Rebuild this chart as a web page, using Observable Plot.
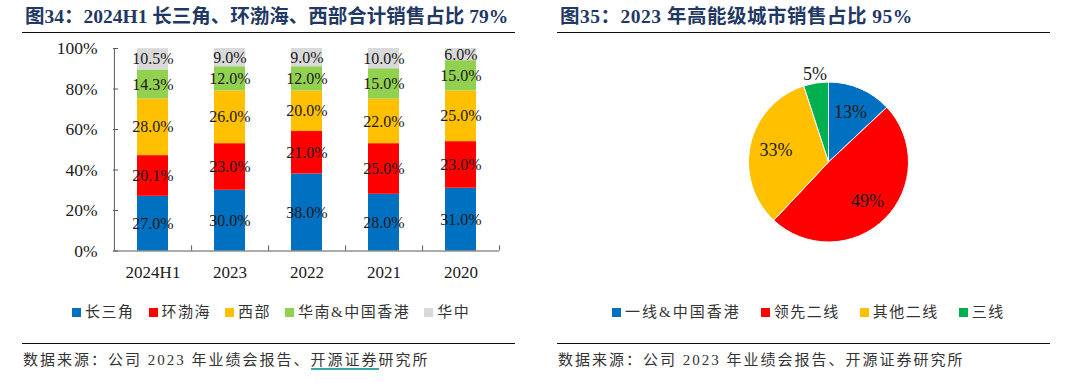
<!DOCTYPE html>
<html><head><meta charset="utf-8">
<script src="https://cdn.jsdelivr.net/npm/d3@7"></script>
<script src="https://cdn.jsdelivr.net/npm/@observablehq/plot@0.6"></script>
<style>
body{margin:0;width:1080px;height:383px;background:#fff;position:relative;overflow:hidden;font-family:"Liberation Serif","Noto Sans CJK SC",serif;}
.abs{position:absolute;}
.title{font-size:19.5px;font-weight:bold;color:#1f3864;line-height:24px;white-space:nowrap;}
.rule{height:0;border-top:1.6px solid #111;}
.legend{display:flex;align-items:center;font-size:15px;letter-spacing:1.5px;color:#333;white-space:nowrap;line-height:20px;}
.legend .item{display:flex;align-items:center;margin-right:14px;}
#leg2 .item{margin-right:20px;}
#leg2 .item:first-child span:last-child{letter-spacing:2px;}
.sw{width:9px;height:9px;display:inline-block;margin-right:4px;}
.src{font-size:15px;letter-spacing:2px;color:#333;white-space:nowrap;line-height:20px;}
.ul{border-bottom:2px solid #3aa6a8;}
</style></head><body>
<div class="abs title" style="left:25px;top:5px">图34：2024H1 长三角、环渤海、西部合计销售占比 79%</div>
<div class="abs rule" style="left:22px;top:32px;width:493px"></div>
<div class="abs title" style="left:560px;top:5px;letter-spacing:0.5px">图35：2023 年高能级城市销售占比 95%</div>
<div class="abs rule" style="left:557px;top:32px;width:493px"></div>
<div id="bar" class="abs" style="left:0;top:0"></div>
<div id="pie" class="abs" style="left:540px;top:0"></div>
<div id="leg1" class="abs legend" style="left:72px;top:302px"></div>
<div id="leg2" class="abs legend" style="left:612px;top:302px"></div>
<div class="abs rule" style="left:22px;top:343px;width:493px"></div>
<div class="abs rule" style="left:557px;top:343px;width:493px"></div>
<div class="abs src" style="left:23px;top:350px">数据来源：公司 2023 年业绩会报告、<span class="ul">开源证券</span>研究所</div>
<div class="abs src" style="left:558px;top:350px">数据来源：公司 2023 年业绩会报告、开源证券研究所</div>
<script>
// ---- data ----
const years = ["2024H1", "2023", "2022", "2021", "2020"];
const regions = ["长三角", "环渤海", "西部", "华南&中国香港", "华中"];
const yangtze = [27.0, 30.0, 38.0, 28.0, 31.0];
const bohai = [20.1, 23.0, 21.0, 25.0, 23.0];
const west = [28.0, 26.0, 20.0, 22.0, 25.0];
const southHK = [14.3, 12.0, 12.0, 15.0, 15.0];
const central = [10.5, 9.0, 9.0, 10.0, 6.0];
const regionColors = ["#0070C0", "#FF0000", "#FFC000", "#92D050", "#D9D9D9"];
const yTicks = [0, 20, 40, 60, 80, 100];

const tiers = ["一线&中国香港", "领先二线", "其他二线", "三线"];
const tierShare = [13, 49, 33, 5];
const tierColors = ["#0070C0", "#FF0000", "#FFC000", "#00B050"];

const font = '"Liberation Serif","Noto Sans CJK SC",serif';

// ---- bar chart ----
const series = [yangtze, bohai, west, southHK, central];
const rows = [];
years.forEach((y, i) => regions.forEach((r, j) => rows.push({year: y, region: r, value: series[j][i]})));

const W = 540, H = 290, ml = 113, mr = 41, mt = 48, mb = H - 250.5;
const step = (W - ml - mr) / years.length;
const bar = Plot.plot({
  width: W, height: H, marginLeft: ml, marginRight: mr, marginTop: mt, marginBottom: mb,
  style: {fontFamily: font, background: "transparent", overflow: "visible"},
  x: {domain: years, paddingInner: 0.6, paddingOuter: 0.3, label: null},
  y: {domain: [0, 100], label: null},
  color: {domain: regions, range: regionColors},
  marks: [
    Plot.barY(rows, {x: "year", y: "value", fill: "region", order: regions}),
    Plot.text(rows, Plot.stackY({x: "year", y: "value", z: "region", order: regions,
      text: d => d.value.toFixed(1) + "%", fill: "#1a1a1a", fontSize: 16})),
    Plot.ruleY([0], {stroke: "#595959"}),
    Plot.ruleX([years[0]], {y1: 0, y2: 100, dx: -step / 2, stroke: "#595959"}),
    Plot.ruleX(years, {x: d => d, y1: 0, y2: 2.5, dx: step / 2, stroke: "#595959"}),
    Plot.axisY(yTicks, {tickSize: -5, tickPadding: 21, tickFormat: d => d + "%", fontSize: 17.5,
      stroke: "#595959", fill: "#1a1a1a", label: null}),
    Plot.axisX({tickSize: 0, tickPadding: 15, fontSize: 17, fill: "#1a1a1a", label: null})
  ]
});
document.getElementById("bar").appendChild(bar);

// ---- pie chart ----
const PW = 540, PH = 290, cx = 288.5, cy = 162, R = 80;
const arcs = d3.pie().sort(null).value(d => d.share)(tiers.map((t, i) => ({tier: t, share: tierShare[i], color: tierColors[i]})));
const labels = arcs.map(a => {
  const mid = (a.startAngle + a.endAngle) / 2;
  const rr = a.data.share < 8 ? 1.12 : 0.68;
  return {x: rr * Math.sin(mid), y: rr * Math.cos(mid), text: a.data.share + "%"};
});
const pie = Plot.plot({
  width: PW, height: PH, margin: 0,
  style: {fontFamily: font, background: "transparent", overflow: "visible"},
  x: {domain: [-cx / R, (PW - cx) / R], range: [0, PW], axis: null},
  y: {domain: [-(PH - cy) / R, cy / R], range: [PH, 0], axis: null},
  marks: [
    (index, scales) => {
      const x0 = scales.x(0), y0 = scales.y(0), r = scales.x(1) - scales.x(0);
      const arc = d3.arc().innerRadius(0).outerRadius(r);
      const g = d3.create("svg:g").attr("transform", `translate(${x0},${y0})`);
      g.selectAll("path").data(arcs).join("path")
        .attr("d", arc).attr("fill", d => d.data.color)
        .attr("stroke", "#fff").attr("stroke-width", 1);
      return g.node();
    },
    Plot.text(labels, {x: "x", y: "y", text: "text", fontSize: 18, fill: "#1a1a1a"})
  ]
});
document.getElementById("pie").appendChild(pie);

// ---- legends ----
function legend(el, names, colors) {
  const c = document.getElementById(el);
  names.forEach((n, i) => {
    const it = document.createElement("span");
    it.className = "item";
    it.innerHTML = `<span class="sw" style="background:${colors[i]}"></span><span>${n}</span>`;
    c.appendChild(it);
  });
}
legend("leg1", regions, regionColors);
legend("leg2", tiers, tierColors);
</script>
</body></html>
